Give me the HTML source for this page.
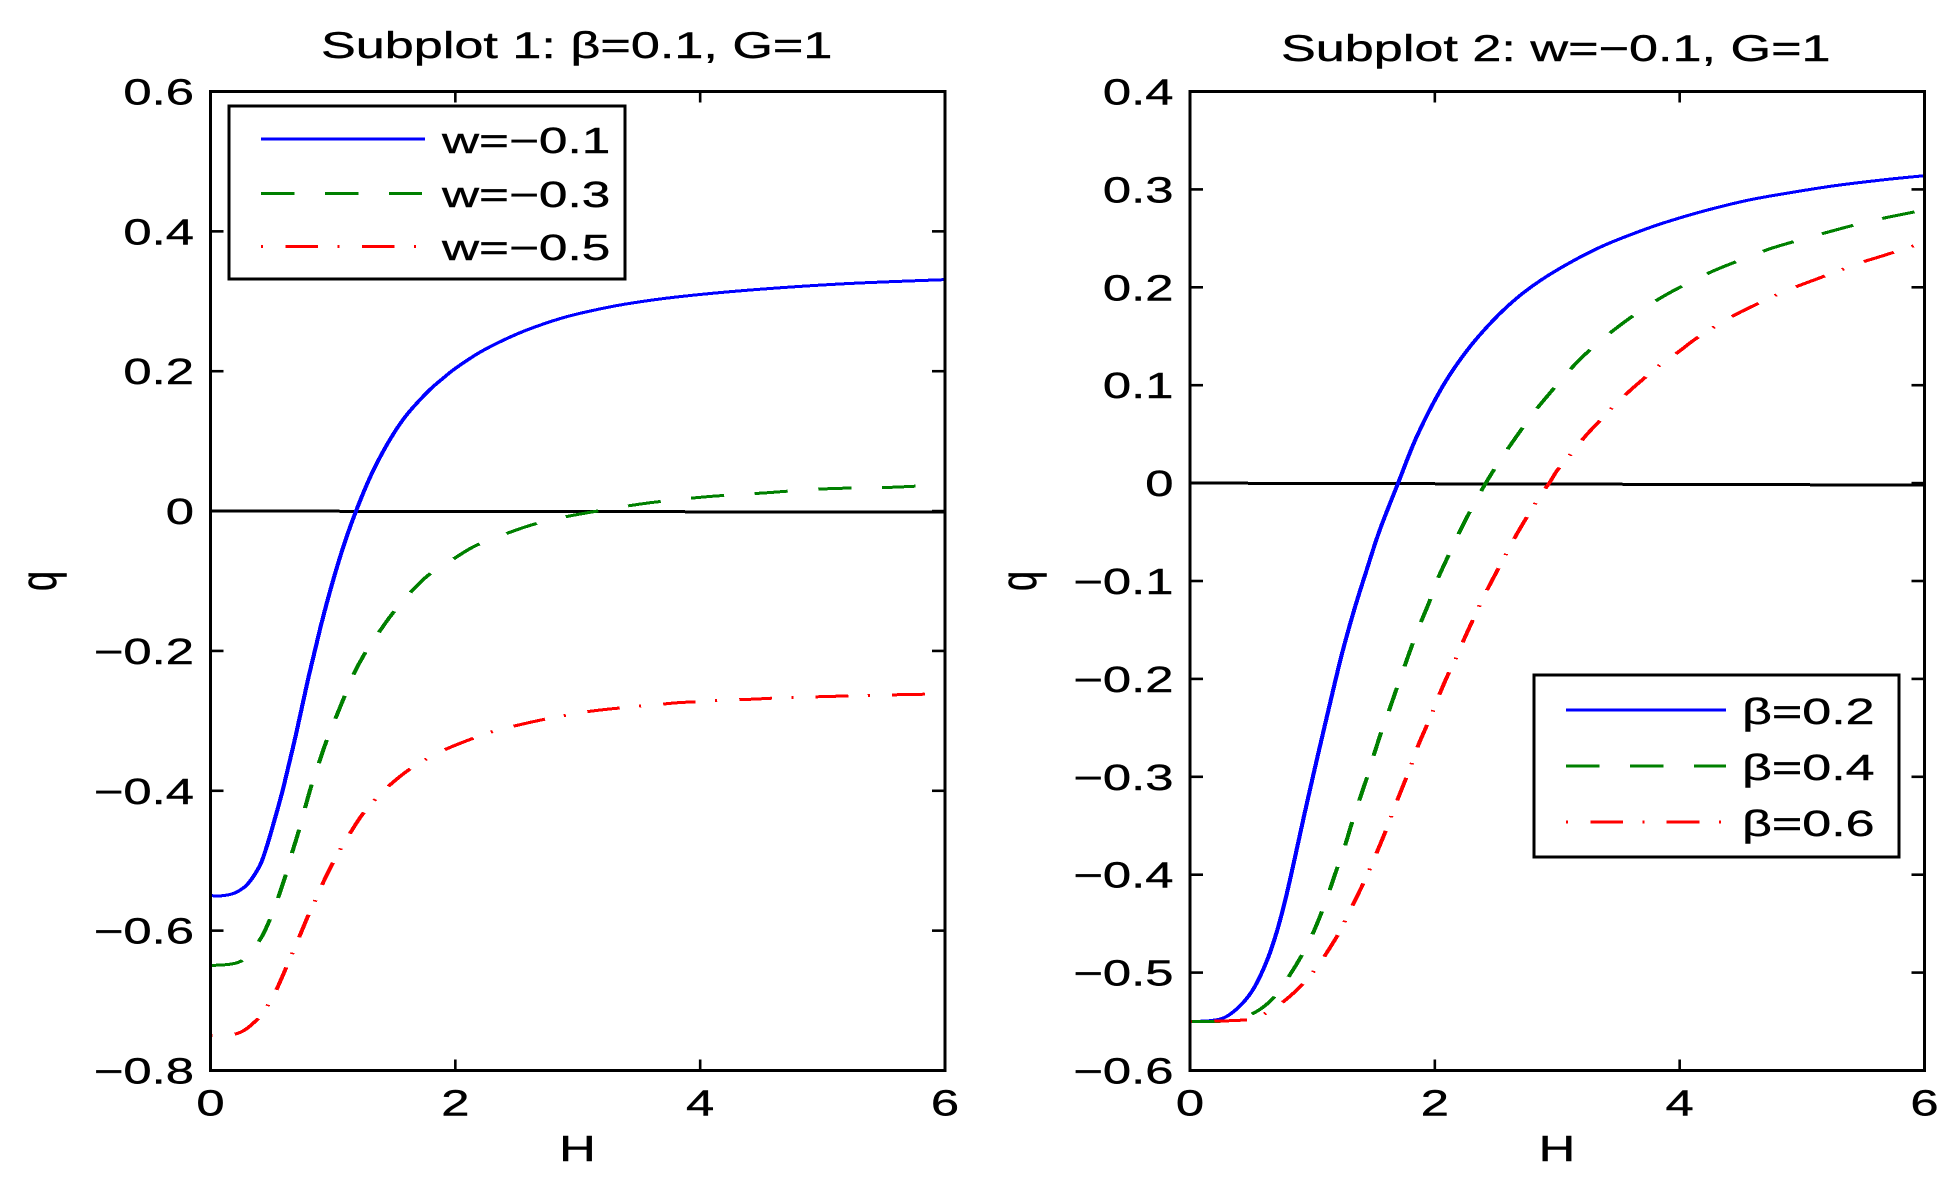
<!DOCTYPE html>
<html lang="en">
<head>
<meta charset="utf-8">
<title>Subplots of q versus H</title>
<style>
html,body{margin:0;padding:0;background:#fff;}
svg{display:block;}
text{font-family:"Liberation Sans","DejaVu Sans",sans-serif;font-size:36px;fill:#000;stroke:#000;stroke-width:.4px;}
.title{font-size:37px;}
</style>
</head>
<body>
<svg id="figure" xmlns="http://www.w3.org/2000/svg" width="1959" height="1190" viewBox="0 0 1959 1190">
  <rect x="0" y="0" width="1959" height="1190" fill="#fff"/>
  <g id="panel-left"></g>
  <g id="panel-right"></g>

  <text class="title" transform="translate(321,58) scale(1.41,1)">Subplot 1: β=0.1, G=1</text>
  <text class="title" transform="translate(1281,61) scale(1.41,1)">Subplot 2: w=−0.1, G=1</text>

  <text text-anchor="middle" transform="translate(577.5,1161) scale(1.41,1)">H</text>
  <text text-anchor="middle" transform="translate(1557,1161) scale(1.41,1)">H</text>
  <text text-anchor="middle" transform="translate(56,581) scale(1.41,1) rotate(-90)">q</text>
  <text text-anchor="middle" transform="translate(1036,581) scale(1.41,1) rotate(-90)">q</text>

  <g>
    <rect x="229" y="106" width="396" height="173" fill="#fff" stroke="#000" stroke-width="3"/>
    <g transform="scale(1.39,1)" fill="none" stroke-width="3" shape-rendering="crispEdges">
      <line x1="187.8" x2="305.8" y1="139" y2="139" stroke="#0000ff"/>
      <line x1="187.8" x2="303.5" y1="193.6" y2="193.6" stroke="#008000" stroke-dasharray="24 22"/>
      <line x1="187.8" x2="303.5" y1="246.5" y2="246.5" stroke="#ff0000" stroke-dasharray="1.5 16 23.5 14"/>
    </g>
    <text transform="translate(442,153) scale(1.425,1)">w=−0.1</text>
    <text transform="translate(442,207) scale(1.425,1)">w=−0.3</text>
    <text transform="translate(442,260) scale(1.425,1)">w=−0.5</text>
  </g>

  <g>
    <rect x="1534" y="675" width="365" height="182" fill="#fff" stroke="#000" stroke-width="3"/>
    <g transform="scale(1.39,1)" fill="none" stroke-width="3" shape-rendering="crispEdges">
      <line x1="1126.6" x2="1241.7" y1="710" y2="710" stroke="#0000ff"/>
      <line x1="1126.6" x2="1241.7" y1="766" y2="766" stroke="#008000" stroke-dasharray="24 22"/>
      <line x1="1126.6" x2="1241.7" y1="822" y2="822" stroke="#ff0000" stroke-dasharray="1.5 16 23.5 14"/>
    </g>
    <text transform="translate(1742,724) scale(1.445,1)">β=0.2</text>
    <text transform="translate(1742,780) scale(1.445,1)">β=0.4</text>
    <text transform="translate(1742,836) scale(1.445,1)">β=0.6</text>
  </g>
</svg>

<script>
// ---- axis data ----
const xTickValues = [0, 2, 4, 6];
const xTickLabels = ["0", "2", "4", "6"];
const leftYTickValues = [0.6, 0.4, 0.2, 0, -0.2, -0.4, -0.6, -0.8];
const leftYTickLabels = ["0.6", "0.4", "0.2", "0", "−0.2", "−0.4", "−0.6", "−0.8"];
const rightYTickValues = [0.4, 0.3, 0.2, 0.1, 0, -0.1, -0.2, -0.3, -0.4, -0.5, -0.6];
const rightYTickLabels = ["0.4", "0.3", "0.2", "0.1", "0", "−0.1", "−0.2", "−0.3", "−0.4", "−0.5", "−0.6"];

// ---- subplot 1 series: H and q ----
const leftZeroH = [0, 6];
const leftZeroQ = [0, -0.0015];
const leftBlueH = [0, 0.1, 0.2, 0.3, 0.4, 0.45, 0.5, 0.55, 0.6, 0.7, 0.8, 0.9, 1.0, 1.1, 1.2, 1.3, 1.4, 1.5, 1.6, 1.7, 1.8, 1.9, 2.0, 2.2, 2.4, 2.6, 2.87, 3.1, 3.39, 3.8, 4.4, 5.17, 6];
const leftBlueQ = [-0.55, -0.55, -0.546, -0.534, -0.508, -0.485, -0.456, -0.425, -0.392, -0.318, -0.238, -0.165, -0.1, -0.043, 0.005, 0.047, 0.082, 0.112, 0.137, 0.157, 0.175, 0.19, 0.204, 0.227, 0.245, 0.26, 0.276, 0.286, 0.296, 0.306, 0.316, 0.325, 0.331];
const leftGreenH = [0, 0.245, 0.4, 0.485, 0.55, 0.613, 0.664, 0.72, 0.77, 0.82, 0.88, 0.945, 1.02, 1.09, 1.164, 1.256, 1.37, 1.48, 1.62, 1.777, 1.98, 2.16, 2.39, 2.62, 2.875, 3.26, 3.51, 3.74, 4.02, 4.25, 4.53, 4.76, 5.05, 5.27, 5.56, 5.81, 6];
const leftGreenQ = [-0.65, -0.644, -0.614, -0.584, -0.554, -0.521, -0.49, -0.458, -0.426, -0.395, -0.363, -0.33, -0.297, -0.267, -0.2355, -0.205, -0.175, -0.148, -0.119, -0.092, -0.069, -0.05, -0.034, -0.02, -0.009, 0.003, 0.01, 0.015, 0.02, 0.023, 0.026, 0.029, 0.032, 0.033, 0.034, 0.036, 0.037];
const leftRedH = [0, 0.22, 0.37, 0.475, 0.54, 0.618, 0.67, 0.73, 0.797, 0.858, 0.91, 1.0, 1.07, 1.15, 1.24, 1.36, 1.47, 1.62, 1.77, 1.93, 2.13, 2.31, 2.49, 2.72, 2.9, 3.03, 3.21, 3.44, 3.64, 3.82, 4.05, 4.25, 4.43, 4.66, 4.87, 5.07, 5.28, 5.48, 5.68, 5.92, 6];
const leftRedQ = [-0.75, -0.747, -0.729, -0.705, -0.684, -0.653, -0.632, -0.607, -0.579, -0.556, -0.535, -0.503, -0.481, -0.458, -0.434, -0.41, -0.391, -0.37, -0.354, -0.34, -0.326, -0.315, -0.307, -0.298, -0.292, -0.288, -0.284, -0.28, -0.277, -0.274, -0.272, -0.27, -0.269, -0.267, -0.266, -0.265, -0.264, -0.263, -0.2625, -0.2615, -0.261];

// ---- subplot 2 series: H and q ----
const rightZeroH = [0, 6];
const rightZeroQ = [0, -0.002];
const rightBlueH = [0, 0.17, 0.296, 0.424, 0.526, 0.628, 0.705, 0.78, 0.858, 0.935, 1.037, 1.14, 1.24, 1.34, 1.44, 1.55, 1.7, 1.854, 2.06, 2.26, 2.467, 2.67, 2.875, 3.13, 3.386, 3.69, 3.9, 4.2, 4.56, 4.92, 5.28, 5.68, 6];
const rightBlueQ = [-0.55, -0.549, -0.545, -0.532, -0.515, -0.488, -0.46, -0.425, -0.382, -0.338, -0.282, -0.227, -0.175, -0.13, -0.09, -0.048, 0, 0.048, 0.098, 0.135, 0.165, 0.189, 0.208, 0.227, 0.243, 0.258, 0.267, 0.278, 0.289, 0.297, 0.304, 0.31, 0.314];
const rightGreenH = [0, 0.32, 0.526, 0.68, 0.807, 0.91, 1.0, 1.07, 1.14, 1.2, 1.267, 1.318, 1.38, 1.445, 1.496, 1.558, 1.624, 1.685, 1.75, 1.813, 1.88, 1.956, 2.02, 2.1, 2.186, 2.27, 2.365, 2.467, 2.58, 2.7, 2.814, 2.94, 3.05, 3.166, 3.32, 3.49, 3.667, 3.87, 4.065, 4.28, 4.5, 4.73, 4.97, 5.2, 5.44, 5.68, 6];
const rightGreenQ = [-0.55, -0.549, -0.541, -0.526, -0.504, -0.483, -0.461, -0.44, -0.416, -0.394, -0.37, -0.349, -0.325, -0.301, -0.28, -0.256, -0.233, -0.211, -0.188, -0.166, -0.144, -0.121, -0.099, -0.077, -0.054, -0.033, -0.011, 0.0105, 0.032, 0.0535, 0.073, 0.092, 0.108, 0.124, 0.142, 0.159, 0.175, 0.191, 0.204, 0.217, 0.228, 0.239, 0.248, 0.256, 0.264, 0.271, 0.279];
const rightRedH = [0, 0.475, 0.638, 0.78, 0.935, 1.02, 1.1, 1.215, 1.267, 1.333, 1.404, 1.466, 1.51, 1.6, 1.64, 1.69, 1.76, 1.813, 1.864, 1.94, 1.99, 2.04, 2.11, 2.176, 2.237, 2.31, 2.38, 2.44, 2.52, 2.6, 2.67, 2.77, 2.86, 2.94, 3.0, 3.1, 3.23, 3.335, 3.44, 3.59, 3.7, 3.82, 3.99, 4.115, 4.25, 4.44, 4.6, 4.75, 4.94, 5.11, 5.28, 5.5, 5.68, 6];
const rightRedQ = [-0.55, -0.548, -0.54, -0.528, -0.51, -0.497, -0.483, -0.46, -0.447, -0.43, -0.412, -0.395, -0.382, -0.355, -0.342, -0.325, -0.303, -0.286, -0.268, -0.246, -0.231, -0.215, -0.195, -0.178, -0.16, -0.14, -0.121, -0.106, -0.087, -0.068, -0.052, -0.031, -0.013, 0.001, 0.013, 0.028, 0.048, 0.062, 0.076, 0.094, 0.106, 0.119, 0.134, 0.146, 0.157, 0.171, 0.181, 0.19, 0.2, 0.208, 0.216, 0.226, 0.233, 0.246];

const SVG_NS = "http://www.w3.org/2000/svg";
const STRETCH = 1.39;
const LABEL_STRETCH = 1.41;
const DASHED = "24 22";
const DASH_DOT = "1.5 16 23.5 14";

function smoothPath(xs, ys) {
  let d = "M" + xs[0].toFixed(2) + " " + ys[0].toFixed(2);
  for (let i = 0; i < xs.length - 1; i++) {
    const a = Math.max(i - 1, 0), b = i + 1, c = Math.min(i + 2, xs.length - 1);
    const c1x = xs[i] + (xs[b] - xs[a]) / 6, c1y = ys[i] + (ys[b] - ys[a]) / 6;
    const c2x = xs[b] - (xs[c] - xs[i]) / 6, c2y = ys[b] - (ys[c] - ys[i]) / 6;
    d += "C" + c1x.toFixed(2) + " " + c1y.toFixed(2) + " " + c2x.toFixed(2) + " " + c2y.toFixed(2) + " " + xs[b].toFixed(2) + " " + ys[b].toFixed(2);
  }
  return d;
}

function drawPanel(root, prefix, left, right, top, bottom, yMax, yMin, yValues, yLabels, seriesList) {
  const xScale = function (h) { return left + (h - 0) / 6 * (right - left); };
  const yScale = function (q) { return top + (yMax - q) / (yMax - yMin) * (bottom - top); };

  // Curves live in an unstretched coordinate space so dash patterns and stroke
  // widths follow the horizontally stretched look of the figure.
  const curves = document.createElementNS(SVG_NS, "g");
  
  
  curves.setAttribute("transform", "scale(" + STRETCH + ",1)");
  curves.setAttribute("fill", "none");
  curves.setAttribute("stroke-width", "3");
  curves.setAttribute("shape-rendering", "crispEdges");
  root.appendChild(curves);

  seriesList.forEach(function (s) {
    const path = document.createElementNS(SVG_NS, "path");
    
    
    const px = s.h.map(function (v) { return xScale(v) / STRETCH; });
    const py = s.q.map(yScale);
    path.setAttribute("d", smoothPath(px, py));
    path.setAttribute("stroke", s.color);
    if (s.dash) path.setAttribute("stroke-dasharray", s.dash);
    curves.appendChild(path);
  });

  const frame = document.createElementNS(SVG_NS, "rect");
  
  
  frame.setAttribute("x", left);
  frame.setAttribute("y", top);
  frame.setAttribute("width", right - left);
  frame.setAttribute("height", bottom - top);
  frame.setAttribute("fill", "none");
  frame.setAttribute("stroke", "#000");
  frame.setAttribute("stroke-width", "3");
  root.appendChild(frame);

  xTickValues.forEach(function (v, i) {
    const x = xScale(v);
    [[bottom, bottom - 11], [top, top + 11]].forEach(function (pair) {
      const tick = document.createElementNS(SVG_NS, "line");
      
      
      tick.setAttribute("x1", x);
      tick.setAttribute("x2", x);
      tick.setAttribute("y1", pair[0]);
      tick.setAttribute("y2", pair[1]);
      tick.setAttribute("stroke", "#000");
      tick.setAttribute("stroke-width", "2.6");
      root.appendChild(tick);
    });
    const label = document.createElementNS(SVG_NS, "text");
    
    
    label.setAttribute("text-anchor", "middle");
    label.setAttribute("transform", "translate(" + x + ",1115.5) scale(" + LABEL_STRETCH + ",1)");
    label.textContent = xTickLabels[i];
    root.appendChild(label);
  });

  yValues.forEach(function (v, i) {
    const y = yScale(v);
    [[left, left + 13], [right, right - 13]].forEach(function (pair) {
      const tick = document.createElementNS(SVG_NS, "line");
      
      
      tick.setAttribute("x1", pair[0]);
      tick.setAttribute("x2", pair[1]);
      tick.setAttribute("y1", y);
      tick.setAttribute("y2", y);
      tick.setAttribute("stroke", "#000");
      tick.setAttribute("stroke-width", "2.6");
      root.appendChild(tick);
    });
    const label = document.createElementNS(SVG_NS, "text");
    
    
    label.setAttribute("text-anchor", "end");
    label.setAttribute("transform", "translate(" + (left - 16.5) + "," + (y + 13) + ") scale(" + LABEL_STRETCH + ",1)");
    label.textContent = yLabels[i];
    root.appendChild(label);
  });
}

drawPanel(document.getElementById("panel-left"), "subplot-1", 210.5, 945, 91.5, 1070.5, 0.6, -0.8,
  leftYTickValues, leftYTickLabels, [
    { name: "zero-line", h: leftZeroH, q: leftZeroQ, color: "#000000" },
    { name: "series-w-0-1", h: leftBlueH, q: leftBlueQ, color: "#0000ff" },
    { name: "series-w-0-3", h: leftGreenH, q: leftGreenQ, color: "#008000", dash: DASHED },
    { name: "series-w-0-5", h: leftRedH, q: leftRedQ, color: "#ff0000", dash: DASH_DOT }
  ]);

drawPanel(document.getElementById("panel-right"), "subplot-2", 1190, 1924.5, 91.5, 1070.5, 0.4, -0.6,
  rightYTickValues, rightYTickLabels, [
    { name: "zero-line", h: rightZeroH, q: rightZeroQ, color: "#000000" },
    { name: "series-beta-0-2", h: rightBlueH, q: rightBlueQ, color: "#0000ff" },
    { name: "series-beta-0-4", h: rightGreenH, q: rightGreenQ, color: "#008000", dash: DASHED },
    { name: "series-beta-0-6", h: rightRedH, q: rightRedQ, color: "#ff0000", dash: DASH_DOT }
  ]);
</script>
</body>
</html>
